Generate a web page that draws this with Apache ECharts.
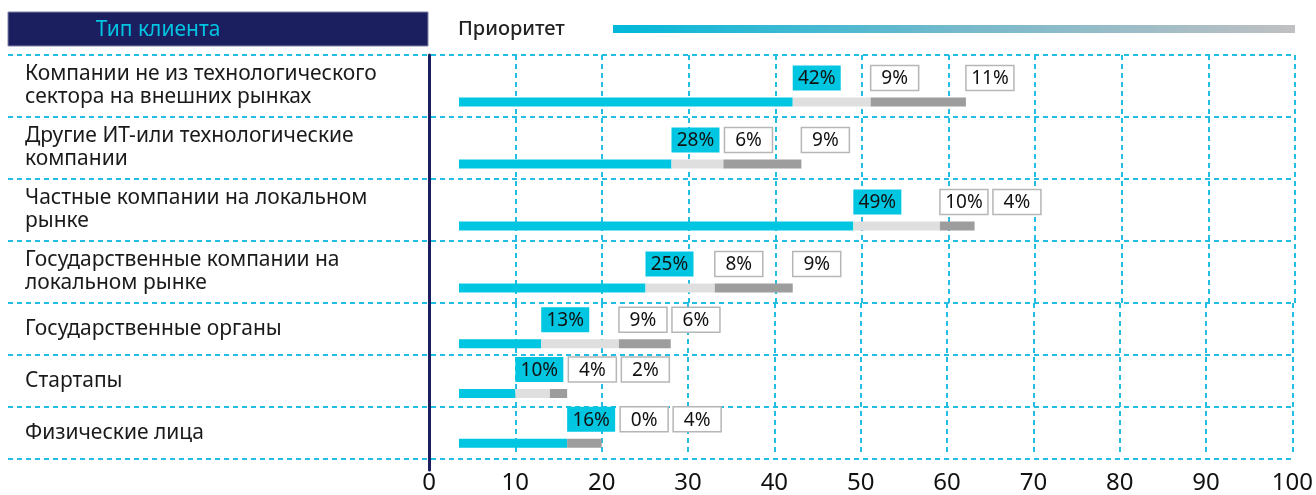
<!DOCTYPE html>
<html>
<head>
<meta charset="utf-8">
<script src="https://cdn.jsdelivr.net/npm/echarts@6/dist/echarts.min.js"></script>
<style>
  html, body { margin: 0; padding: 0; background: #ffffff; }
  #chart { width: 1316px; height: 495px; }
</style>
</head>
<body>
<div id="chart"></div>
<script>
// Client types (line breaks as printed)
const categories = [
  'Компании не из технологического\nсектора на внешних рынках',
  'Другие ИТ-или технологические\nкомпании',
  'Частные компании на локальном\nрынке',
  'Государственные компании на\nлокальном рынке',
  'Государственные органы',
  'Стартапы',
  'Физические лица'
];
// Share of respondents by priority level, %
const highPriority   = [42, 28, 49, 25, 13, 10, 16];
const mediumPriority = [9, 6, 10, 8, 9, 4, 0];
const lowPriority    = [11, 9, 4, 9, 6, 2, 4];
// Value axis range
const axisMin = 0, axisMax = 100, axisStep = 10;

const FONT = '"Noto Sans", sans-serif';
const CYAN = '#00c6e1';
const LIGHT = '#dedfde';
const DARK = '#9d9d9d';
const GRID_CYAN = '#22bde0';
const NAVY = '#1c1f5f';

// layout
const TOP = 55;
const ROW_H = { 1: 52, 2: 62 };
const AXIS_X = 429;
const RIGHT = 21;
const LABEL_X = 8;
const BAR_INSET = 30;
const BAR_OFFSET = 16;
const BAR_H = 9;
const BOX_W = 48, BOX_H = 25, BOX_GAP = 5, BOX_RISE = 32;

// group consecutive rows with the same number of text lines into one block
const blocks = [];
categories.forEach((c, i) => {
  const n = c.split('\n').length;
  const last = blocks[blocks.length - 1];
  if (last && last.lines === n) last.rows.push(i);
  else blocks.push({ lines: n, rows: [i] });
});

const grids = [], xAxes = [], yAxes = [], series = [];
let y = TOP;
blocks.forEach((b, bi) => {
  const h = b.rows.length * ROW_H[b.lines];
  const isLast = bi === blocks.length - 1;

  // bar area
  const gBar = grids.length;
  grids.push({ left: AXIS_X, right: RIGHT, top: y, height: h });
  xAxes.push({
    gridIndex: gBar, type: 'value', min: axisMin, max: axisMax, interval: axisStep,
    axisLine: { show: false }, axisTick: { show: false },
    axisLabel: { show: isLast, fontSize: 24, color: '#111', fontFamily: FONT, margin: 19 },
    splitLine: { show: true, lineStyle: { color: GRID_CYAN, width: 2, type: [5, 4] } }
  });
  yAxes.push({
    gridIndex: gBar, type: 'category', inverse: true,
    data: b.rows.map(i => categories[i]), show: false
  });

  // full-width row separators with row titles
  const gSep = grids.length;
  grids.push({ left: LABEL_X, right: RIGHT, top: y, height: h });
  xAxes.push({ gridIndex: gSep, type: 'value', show: false, min: 0, max: 1 });
  yAxes.push({
    gridIndex: gSep, type: 'category', inverse: true,
    data: b.rows.map(i => categories[i]),
    axisLine: { show: false }, axisTick: { show: false },
    axisLabel: {
      inside: true, margin: 17, align: 'left', verticalAlign: 'middle',
      fontSize: 21, lineHeight: 23, color: '#1a1a1a', fontFamily: FONT
    },
    splitLine: { show: true, lineStyle: { color: GRID_CYAN, width: 2, type: [5, 4] } }
  });

  series.push({
    type: 'custom',
    xAxisIndex: gBar, yAxisIndex: gBar,
    z: 5,
    data: b.rows.map((i, k) => [k, highPriority[i], mediumPriority[i], lowPriority[i]]),
    renderItem: renderRow
  });

  y += h;
});

// vertical navy axis line
const gAxis = grids.length;
grids.push({ left: AXIS_X, width: 1, top: TOP, height: y - TOP + 11 });
xAxes.push({ gridIndex: gAxis, type: 'value', show: false });
yAxes.push({
  gridIndex: gAxis, type: 'value', min: 0, max: 1,
  axisLine: { show: true, lineStyle: { color: NAVY, width: 3 } },
  axisTick: { show: false }, axisLabel: { show: false }, splitLine: { show: false }
});

function box(x, top, value, filled) {
  return [
    {
      type: 'rect',
      shape: { x: x, y: top, width: BOX_W, height: BOX_H },
      style: filled
        ? { fill: CYAN }
        : { fill: '#ffffff', stroke: '#b6b6b6', lineWidth: 1.5 }
    },
    {
      type: 'text',
      style: {
        text: value + '%', x: x + BOX_W / 2, y: top + BOX_H / 2 + 1,
        align: 'center', verticalAlign: 'middle',
        fontSize: 19, fontFamily: FONT, fill: '#111'
      }
    }
  ];
}

function renderRow(params, api) {
  const idx = api.value(0);
  const a = api.value(1), b = api.value(2), c = api.value(3);
  const origin = api.coord([0, idx]);
  const x0 = origin[0] + BAR_INSET;
  const x1 = api.coord([a, idx])[0];
  const x2 = api.coord([a + b, idx])[0];
  const x3 = api.coord([a + b + c, idx])[0];
  const top = origin[1] + BAR_OFFSET - BAR_H / 2;

  const children = [
    { type: 'rect', shape: { x: x0, y: top, width: x1 - x0, height: BAR_H }, style: { fill: CYAN } },
    { type: 'rect', shape: { x: x1, y: top, width: x2 - x1, height: BAR_H }, style: { fill: LIGHT } },
    { type: 'rect', shape: { x: x2, y: top, width: x3 - x2, height: BAR_H }, style: { fill: DARK } }
  ];

  const boxTop = top - BOX_RISE;
  const b1 = x1;
  const b2 = Math.max(x2, b1 + BOX_W + BOX_GAP);
  const b3 = Math.max(x3, b2 + BOX_W + BOX_GAP);
  children.push(...box(b1, boxTop, a, true));
  children.push(...box(b2, boxTop, b, false));
  children.push(...box(b3, boxTop, c, false));

  return { type: 'group', children: children };
}

const chart = echarts.init(document.getElementById('chart'), null, { renderer: 'canvas' });
chart.setOption({
  animation: false,
  backgroundColor: '#ffffff',
  grid: grids,
  xAxis: xAxes,
  yAxis: yAxes,
  series: series,
  graphic: [
    {
      type: 'rect', z: 10,
      shape: { x: 8, y: 12, width: 420, height: 34 },
      style: { fill: NAVY, stroke: '#7f82a8', lineWidth: 1 }
    },
    {
      type: 'text', z: 11,
      style: {
        text: 'Тип клиента', x: 158, y: 30, align: 'center', verticalAlign: 'middle',
        fontSize: 21, fontFamily: FONT, fill: '#00c4e2'
      }
    },
    {
      type: 'text', z: 11,
      style: {
        text: 'Приоритет', x: 458, y: 29, align: 'left', verticalAlign: 'middle',
        fontSize: 20, fontWeight: 500, fontFamily: FONT, fill: '#222222'
      }
    },
    {
      type: 'rect', z: 10,
      shape: { x: 613, y: 25, width: 682, height: 8 },
      style: {
        fill: new echarts.graphic.LinearGradient(0, 0, 1, 0, [
          { offset: 0, color: '#00b8d9' },
          { offset: 0.5, color: '#74b9cc' },
          { offset: 1, color: '#c0c0c2' }
        ])
      }
    }
  ]
});
</script>
</body>
</html>
